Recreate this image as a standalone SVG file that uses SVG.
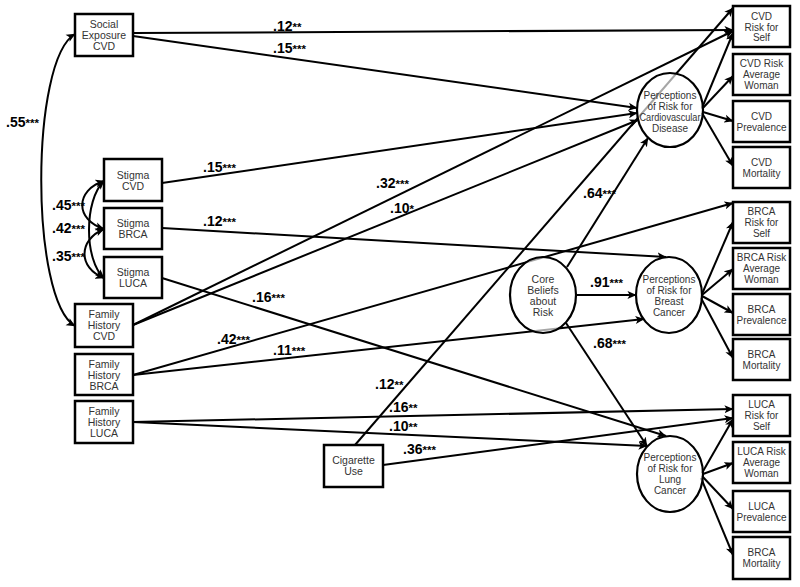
<svg xmlns="http://www.w3.org/2000/svg" width="800" height="587" viewBox="0 0 800 587">
<defs>
<marker id="ah" viewBox="0 0 10 10" refX="9.5" refY="5" markerWidth="9" markerHeight="9" markerUnits="userSpaceOnUse" orient="auto-start-reverse">
<path d="M0,0.5 L10,5 L0,9.5 L2.5,5 z" fill="#000"/>
</marker>
<style>
.box{fill:#fff;stroke:#000;stroke-width:2.5}
.ell{fill:#fff;fill-opacity:0.65;stroke:#000;stroke-width:2.2}
.nt{font-family:"Liberation Sans",Arial,sans-serif;font-size:10.5px;fill:#333;text-anchor:middle}
.et{font-family:"Liberation Sans",Arial,sans-serif;font-size:10px;fill:#333;text-anchor:middle}
.rt{font-family:"Liberation Sans",Arial,sans-serif;font-size:10px;fill:#333;text-anchor:middle}
.lb{font-family:"Liberation Sans",Arial,sans-serif;font-size:14px;font-weight:bold;fill:#000}
.st{font-size:11.5px}
.c{stroke:#000;stroke-width:2;fill:none;marker-end:url(#ah)}
.cc{stroke:#000;stroke-width:2;fill:none;marker-end:url(#ah);marker-start:url(#ah)}
</style>
</defs>
<rect width="800" height="587" fill="#fff"/>
<g id="connectors">
<path class="c" d="M133,33 L733,30"/>
<path class="c" d="M133,36 L637,108"/>
<path class="c" d="M162,183 L637,113"/>
<path class="c" d="M162,228 L666,257"/>
<path class="c" d="M162,278 L666,436"/>
<path class="c" d="M133,325 L733,31"/>
<path class="c" d="M133,325 L638,120"/>
<path class="c" d="M133,375 L733,203"/>
<path class="c" d="M133,375 L644,319"/>
<path class="c" d="M133,422 L733,409"/>
<path class="c" d="M133,422 L647,446"/>
<path class="c" d="M355,445 L733,8"/>
<path class="c" d="M383,465 L733,418"/>
<path class="c" d="M567,267 L648,138"/>
<path class="c" d="M576,295 L636,295"/>
<path class="c" d="M566,323 L647,446"/>
<path class="c" d="M702,108 L733,33"/>
<path class="c" d="M702,109 L733,76"/>
<path class="c" d="M703,112 L733,121"/>
<path class="c" d="M702,113 L733,166"/>
<path class="c" d="M702,294 L733,222"/>
<path class="c" d="M702,295 L733,269"/>
<path class="c" d="M702,296 L733,313"/>
<path class="c" d="M701,298 L733,358"/>
<path class="c" d="M702,473 L733,419"/>
<path class="c" d="M703,474 L733,463"/>
<path class="c" d="M702,476 L733,509"/>
<path class="c" d="M701,478 L733,555"/>
<path class="cc" d="M75,34 C30,60 30,300 75,326"/>
<path class="cc" d="M104,181 C75,190 75,220 104,229"/>
<path class="cc" d="M104,181 C84,200 84,260 104,278"/>
<path class="cc" d="M104,229 C78,240 78,268 104,278"/>
</g>
<g id="labels">
<text class="lb" x="273" y="31">.12<tspan class="st">**</tspan></text>
<text class="lb" x="273" y="53">.15<tspan class="st">***</tspan></text>
<text class="lb" x="203" y="172">.15<tspan class="st">***</tspan></text>
<text class="lb" x="203" y="226">.12<tspan class="st">***</tspan></text>
<text class="lb" x="252" y="302">.16<tspan class="st">***</tspan></text>
<text class="lb" x="217" y="344">.42<tspan class="st">***</tspan></text>
<text class="lb" x="273" y="355">.11<tspan class="st">***</tspan></text>
<text class="lb" x="376" y="188">.32<tspan class="st">***</tspan></text>
<text class="lb" x="390" y="213">.10<tspan class="st">*</tspan></text>
<text class="lb" x="375" y="389">.12<tspan class="st">**</tspan></text>
<text class="lb" x="389" y="412">.16<tspan class="st">**</tspan></text>
<text class="lb" x="389" y="431">.10<tspan class="st">**</tspan></text>
<text class="lb" x="403" y="454">.36<tspan class="st">***</tspan></text>
<text class="lb" x="583" y="198">.64<tspan class="st">***</tspan></text>
<text class="lb" x="590" y="287">.91<tspan class="st">***</tspan></text>
<text class="lb" x="593" y="348">.68<tspan class="st">***</tspan></text>
<text class="lb" x="6" y="127">.55<tspan class="st">***</tspan></text>
<text class="lb" x="52" y="210">.45<tspan class="st">***</tspan></text>
<text class="lb" x="52" y="233">.42<tspan class="st">***</tspan></text>
<text class="lb" x="52" y="261">.35<tspan class="st">***</tspan></text>
</g>
<g id="social-exposure-cvd"><rect class="box" x="75" y="14" width="58" height="42"/><text class="nt"><tspan x="104" y="28">Social</tspan><tspan x="104" y="39">Exposure</tspan><tspan x="104" y="50">CVD</tspan></text></g>
<g id="stigma-cvd"><rect class="box" x="104" y="159" width="58" height="42"/><text class="nt"><tspan x="133" y="179">Stigma</tspan><tspan x="133" y="190">CVD</tspan></text></g>
<g id="stigma-brca"><rect class="box" x="104" y="208" width="58" height="41"/><text class="nt"><tspan x="133" y="227">Stigma</tspan><tspan x="133" y="238">BRCA</tspan></text></g>
<g id="stigma-luca"><rect class="box" x="104" y="257" width="58" height="41"/><text class="nt"><tspan x="133" y="276">Stigma</tspan><tspan x="133" y="287">LUCA</tspan></text></g>
<g id="family-history-cvd"><rect class="box" x="75" y="304" width="58" height="43"/><text class="nt"><tspan x="104" y="318">Family</tspan><tspan x="104" y="329">History</tspan><tspan x="104" y="340">CVD</tspan></text></g>
<g id="family-history-brca"><rect class="box" x="75" y="354" width="58" height="41"/><text class="nt"><tspan x="104" y="368">Family</tspan><tspan x="104" y="379">History</tspan><tspan x="104" y="390">BRCA</tspan></text></g>
<g id="family-history-luca"><rect class="box" x="75" y="401" width="58" height="42"/><text class="nt"><tspan x="104" y="415">Family</tspan><tspan x="104" y="426">History</tspan><tspan x="104" y="437">LUCA</tspan></text></g>
<g id="cigarette-use"><rect class="box" x="324" y="445" width="59" height="42"/><text class="nt"><tspan x="353.5" y="464">Cigarette</tspan><tspan x="353.5" y="475">Use</tspan></text></g>
<g id="perc-cvd"><ellipse class="ell" cx="670" cy="110" rx="33" ry="37"/><text class="et"><tspan x="670" y="99">Perceptions</tspan><tspan x="670" y="110">of Risk for</tspan><tspan x="670" y="121" textLength="61" lengthAdjust="spacingAndGlyphs">Cardiovascular</tspan><tspan x="670" y="132">Disease</tspan></text></g>
<g id="perc-brca"><ellipse class="ell" cx="669" cy="295" rx="33" ry="38"/><text class="et"><tspan x="669" y="283">Perceptions</tspan><tspan x="669" y="294">of Risk for</tspan><tspan x="669" y="305">Breast</tspan><tspan x="669" y="316">Cancer</tspan></text></g>
<g id="perc-luca"><ellipse class="ell" cx="670" cy="474" rx="33" ry="38"/><text class="et"><tspan x="670" y="461">Perceptions</tspan><tspan x="670" y="472">of Risk for</tspan><tspan x="670" y="483">Lung</tspan><tspan x="670" y="494">Cancer</tspan></text></g>
<g id="core-beliefs"><ellipse class="ell" cx="543" cy="295" rx="33" ry="38"/><text class="nt"><tspan x="543" y="283">Core</tspan><tspan x="543" y="294">Beliefs</tspan><tspan x="543" y="305">about</tspan><tspan x="543" y="316">Risk</tspan></text></g>
<g id="cvd-risk-self"><rect class="box" x="733" y="6" width="57" height="41"/><text class="rt"><tspan x="761.5" y="20">CVD</tspan><tspan x="761.5" y="30.5">Risk for</tspan><tspan x="761.5" y="41">Self</tspan></text></g>
<g id="cvd-risk-avg"><rect class="box" x="733" y="54" width="57" height="41"/><text class="rt"><tspan x="761.5" y="67">CVD Risk</tspan><tspan x="761.5" y="78">Average</tspan><tspan x="761.5" y="89">Woman</tspan></text></g>
<g id="cvd-prev"><rect class="box" x="733" y="101" width="57" height="41"/><text class="rt"><tspan x="761.5" y="120">CVD</tspan><tspan x="761.5" y="131">Prevalence</tspan></text></g>
<g id="cvd-mort"><rect class="box" x="733" y="147" width="57" height="41"/><text class="rt"><tspan x="761.5" y="166">CVD</tspan><tspan x="761.5" y="177">Mortality</tspan></text></g>
<g id="brca-risk-self"><rect class="box" x="733" y="202" width="57" height="41"/><text class="rt"><tspan x="761.5" y="215">BRCA</tspan><tspan x="761.5" y="226">Risk for</tspan><tspan x="761.5" y="237">Self</tspan></text></g>
<g id="brca-risk-avg"><rect class="box" x="733" y="248" width="57" height="41"/><text class="rt"><tspan x="761.5" y="261">BRCA Risk</tspan><tspan x="761.5" y="272">Average</tspan><tspan x="761.5" y="283">Woman</tspan></text></g>
<g id="brca-prev"><rect class="box" x="733" y="294" width="57" height="41"/><text class="rt"><tspan x="761.5" y="313">BRCA</tspan><tspan x="761.5" y="324">Prevalence</tspan></text></g>
<g id="brca-mort"><rect class="box" x="733" y="339" width="57" height="41"/><text class="rt"><tspan x="761.5" y="358">BRCA</tspan><tspan x="761.5" y="369">Mortality</tspan></text></g>
<g id="luca-risk-self"><rect class="box" x="733" y="395" width="57" height="41"/><text class="rt"><tspan x="761.5" y="408">LUCA</tspan><tspan x="761.5" y="419">Risk for</tspan><tspan x="761.5" y="430">Self</tspan></text></g>
<g id="luca-risk-avg"><rect class="box" x="733" y="442" width="57" height="41"/><text class="rt"><tspan x="761.5" y="455">LUCA Risk</tspan><tspan x="761.5" y="466">Average</tspan><tspan x="761.5" y="477">Woman</tspan></text></g>
<g id="luca-prev"><rect class="box" x="733" y="491" width="57" height="41"/><text class="rt"><tspan x="761.5" y="510">LUCA</tspan><tspan x="761.5" y="521">Prevalence</tspan></text></g>
<g id="luca-mort"><rect class="box" x="733" y="537" width="57" height="42"/><text class="rt"><tspan x="761.5" y="556">BRCA</tspan><tspan x="761.5" y="567">Mortality</tspan></text></g>
</svg>
